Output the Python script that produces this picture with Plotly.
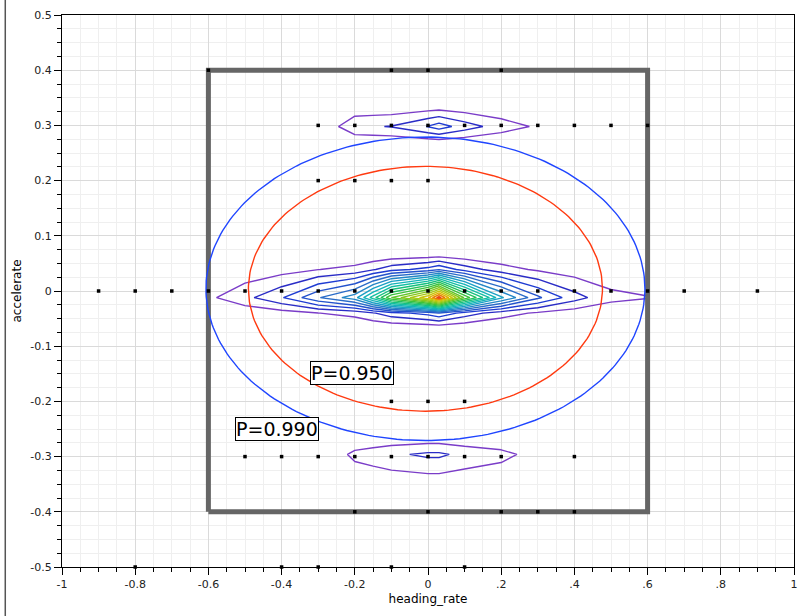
import numpy as np
import plotly.graph_objects as go

# ---------------- data ----------------
# observed points (heading_rate, accelerate)
pts_x = [-0.6, -0.1, 0.0, 0.2,
         -0.3, -0.2, -0.1, 0.0, 0.1, 0.2, 0.3, 0.4, 0.5, 0.6,
         -0.3, -0.2, -0.1, 0.0,
         -0.9, -0.8, -0.7, -0.6, -0.5, -0.4, -0.3, -0.2, -0.1, 0.0, 0.1, 0.2, 0.3, 0.4, 0.5, 0.6, 0.7, 0.9,
         -0.1, 0.0, 0.1,
         -0.5, -0.4, -0.3, -0.2, -0.1, 0.0, 0.1, 0.2, 0.4,
         -0.2, 0.0, 0.2, 0.3, 0.4,
         -0.8, -0.4, -0.3, -0.1, 0.1]
pts_y = [0.4, 0.4, 0.4, 0.4,
         0.3, 0.3, 0.3, 0.3, 0.3, 0.3, 0.3, 0.3, 0.3, 0.3,
         0.2, 0.2, 0.2, 0.2,
         0, 0, 0, 0, 0, 0, 0, 0, 0, 0, 0, 0, 0, 0, 0, 0, 0, 0,
         -0.2, -0.2, -0.2,
         -0.3, -0.3, -0.3, -0.3, -0.3, -0.3, -0.3, -0.3, -0.3,
         -0.4, -0.4, -0.4, -0.4, -0.4,
         -0.5, -0.5, -0.5, -0.5, -0.5]

# nonparametric density estimate (estimated from the contour picture)
grid_x = [-0.7, -0.6, -0.5, -0.4, -0.3, -0.2, -0.15, -0.1, 0.0, 0.03, 0.1, 0.2, 0.3, 0.4, 0.5, 0.6, 0.7]
grid_y = [-0.40, -0.36, -0.296, -0.26, -0.085, -0.062, -0.040, -0.012,
          0.039, 0.062, 0.085, 0.265, 0.298, 0.34, 0.40]
density = [
    [0, 0, 0, 0, 0, 0, 0, 0, 0, 0, 0, 0, 0, 0, 0, 0, 0],
    [0, 0, 0, 0, 0, 0, 0, 0, 0, 0, 0, 0, 0, 0, 0, 0, 0],
    [0, 0, 0, 0, 0, 1.25, 1.5, 1.8, 2.2, 2.2, 1.7, 1.3, 0.6, 0, 0, 0, 0],
    [0, 0, 0, 0, 0, 0, 0, 0, 0, 0, 0, 0, 0, 0, 0, 0, 0],
    [0, 0, 0, 0, 0, 0, 0, 0, 0, 0, 0, 0, 0, 0, 0, 0, 0],
    [0, 0.04, 0.085, 0.145, 0.245, 0.33, 0.475, 0.65, 0.845, 0.98, 0.64, 0.36, 0.21, 0.12, 0.065, 0.0525, 0],
    [0, 0.16, 0.34, 0.58, 0.98, 1.32, 1.9, 2.6, 3.38, 3.92, 2.56, 1.44, 0.84, 0.48, 0.26, 0.21, 0],
    [0, 0.8, 1.7, 2.9, 4.9, 6.6, 9.5, 13.0, 16.9, 19.6, 12.8, 7.2, 4.2, 2.4, 1.3, 1.05, 0],
    [0, 0.16, 0.34, 0.58, 0.98, 1.32, 1.9, 2.6, 3.38, 3.92, 2.56, 1.44, 0.84, 0.48, 0.26, 0.21, 0],
    [0, 0.04, 0.085, 0.145, 0.245, 0.33, 0.475, 0.65, 0.845, 0.98, 0.64, 0.36, 0.21, 0.12, 0.065, 0.0525, 0],
    [0, 0, 0, 0, 0, 0, 0, 0, 0, 0, 0, 0, 0, 0, 0, 0, 0],
    [0, 0, 0, 0, 0, 0, 0, 0, 0, 0, 0, 0, 0, 0, 0, 0, 0],
    [0, 0, 0, 0, 0, 1.8, 1.92, 2.05, 3.05, 3.5, 2.5, 1.5, 0.85, 0, 0, 0, 0],
    [0, 0, 0, 0, 0, 0, 0, 0, 0, 0, 0, 0, 0, 0, 0, 0, 0],
    [0, 0, 0, 0, 0, 0, 0, 0, 0, 0, 0, 0, 0, 0, 0, 0, 0],
]
density_levels = [1, 19]   # first / last contour level

# bivariate normal density ellipses
ell_mean = [-0.007, 0.004]
ell_sd = [0.1976, 0.0906]
ell_corr = 0.0
ell_probs = [0.95, 0.99]
ell_labels = ["P=0.950", "P=0.990"]

# the grey reference box
box_x = [-0.6, 0.6]
box_y = [-0.4, 0.4]

# tick labels
x_ticks = [-1, -0.8, -0.6, -0.4, -0.2, 0, 0.2, 0.4, 0.6, 0.8, 1]
x_ticktext = ["-1", "-0.8", "-0.6", "-0.4", "-0.2", "0", ".2", ".4", ".6", ".8", "1"]
y_ticks = [0.5, 0.4, 0.3, 0.2, 0.1, 0, -0.1, -0.2, -0.3, -0.4, -0.5]
y_ticktext = ["0.5", "0.4", "0.3", "0.2", "0.1", "0", "-0.1", "-0.2", "-0.3", "-0.4", "-0.5"]

# ---------------- styles ----------------
level_colors = ["#7a3cc8", "#2a2cc6", "#1f3cd2", "#2352cc", "#2a6cc8", "#2386c6",
                "#1aa0c4", "#14b4b8", "#12bea2", "#16c07e", "#24c05c", "#3cc23c",
                "#60c42a", "#86c61c", "#a8c812", "#c8c60a", "#e0ae00", "#e88000", "#e84812"]
ell_colors = ["#ff3a10", "#1f45ff"]
FONT = "DejaVu Sans"

fig = go.Figure()

# grey box
fig.add_trace(go.Scatter(
    x=[box_x[0], box_x[1], box_x[1], box_x[0], box_x[0]],
    y=[box_y[0], box_y[0], box_y[1], box_y[1], box_y[0]],
    mode="lines", line=dict(color="#666666", width=5), hoverinfo="skip", showlegend=False))

# density contours
n_lev = density_levels[1] - density_levels[0]
cscale = [[i / n_lev, c] for i, c in enumerate(level_colors)]
fig.add_trace(go.Contour(
    x=grid_x, y=grid_y, z=density,
    autocontour=False,
    contours=dict(start=density_levels[0], end=density_levels[1], size=1, coloring="lines"),
    colorscale=cscale, zmin=density_levels[0], zmax=density_levels[1],
    line=dict(width=1.4, smoothing=0), showscale=False, hoverinfo="skip"))

# normal density ellipses (radius from the chi-square quantile with 2 df)
t = np.linspace(0, 2 * np.pi, 241)
cov = np.array([[ell_sd[0] ** 2, ell_corr * ell_sd[0] * ell_sd[1]],
                [ell_corr * ell_sd[0] * ell_sd[1], ell_sd[1] ** 2]])
L = np.linalg.cholesky(cov)
for p, col in zip(ell_probs, ell_colors):
    c = np.sqrt(-2 * np.log(1 - p))
    xy = c * (L @ np.vstack([np.cos(t), np.sin(t)]))
    fig.add_trace(go.Scatter(x=ell_mean[0] + xy[0], y=ell_mean[1] + xy[1], mode="lines",
                             line=dict(color=col, width=1.4), hoverinfo="skip", showlegend=False))

# points
fig.add_trace(go.Scatter(x=pts_x, y=pts_y, mode="markers",
                         marker=dict(symbol="square", size=3.5, color="black"),
                         hoverinfo="skip", showlegend=False, cliponaxis=False))

# ellipse labels
label_pos = [(-0.208, -0.148), (-0.413, -0.25)]
for txt, (lx, ly) in zip(ell_labels, label_pos):
    fig.add_annotation(x=lx, y=ly, xref="x", yref="y", text=txt, showarrow=False,
                       font=dict(family=FONT, size=19, color="black"),
                       bgcolor="white", bordercolor="black", borderwidth=1, borderpad=0)

axis_common = dict(showline=True, linecolor="black", linewidth=1, mirror=True,
                   ticks="outside", ticklen=7, tickcolor="black", tickwidth=1,
                   showgrid=True, gridcolor="#dadada", gridwidth=1, zeroline=False,
                   tickfont=dict(family=FONT, size=11, color="#222222"))

fig.update_layout(
    width=807, height=616,
    margin=dict(l=62, r=9, t=14, b=49),
    paper_bgcolor="white", plot_bgcolor="white",
    showlegend=False,
    xaxis=dict(range=[-1, 1], tickmode="array", tickvals=x_ticks, ticktext=x_ticktext,
               title=dict(text="heading_rate", font=dict(family=FONT, size=12, color="black"), standoff=4),
               minor=dict(tickmode="linear", tick0=-1, dtick=0.05, ticks="outside", ticklen=4,
                          tickcolor="black", showgrid=True, gridcolor="#efefef"),
               **axis_common),
    yaxis=dict(range=[-0.5, 0.5], tickmode="array", tickvals=y_ticks, ticktext=y_ticktext,
               title=dict(text="accelerate", font=dict(family=FONT, size=12, color="black"), standoff=6),
               minor=dict(tickmode="linear", tick0=-0.5, dtick=0.025, ticks="outside", ticklen=4,
                          tickcolor="black", showgrid=True, gridcolor="#efefef"),
               **axis_common),
    shapes=[dict(type="line", xref="paper", yref="paper", x0=-0.0775, x1=-0.0775, y0=-0.09, y1=1.03,
                 line=dict(color="#555555", width=1.5))],
)

fig.write_html("out.html", config={"displayModeBar": False},
               post_script="document.body.style.margin='0px';document.body.style.overflow='hidden';")
